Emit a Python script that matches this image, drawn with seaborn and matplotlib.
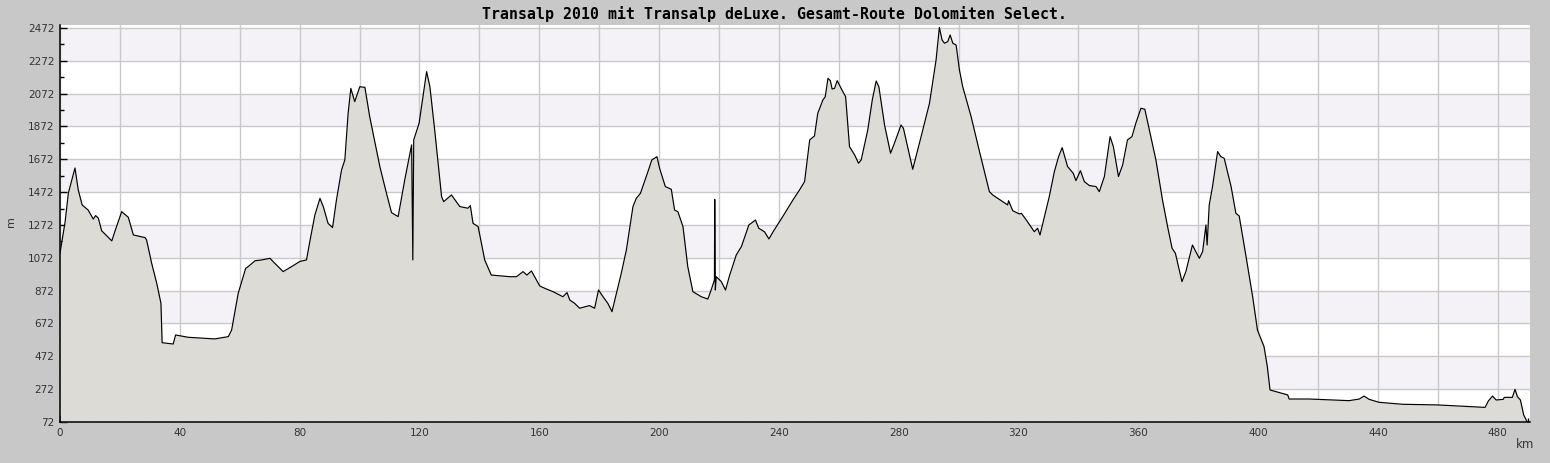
import numpy as np
import pandas as pd
import matplotlib
matplotlib.use("Agg")
import matplotlib.pyplot as plt
import seaborn as sns

# elevation profile (km, m)
km = [0.0, 1.7, 2.8, 5.0, 6.1, 7.4, 9.4, 11.1, 11.9, 12.8, 13.9, 17.3, 18.4, 20.6, 22.8,
      24.5, 28.4, 28.9, 30.6, 32.3, 33.7, 34.1, 37.8, 38.6, 42.8, 51.7, 56.2, 57.3, 59.5,
      62.0, 62.8, 65.1, 67.3, 70.1, 71.7, 74.5, 77.3, 80.1, 82.3, 83.4, 85.1, 86.8, 87.9,
      89.5, 91.0, 92.3, 94.0, 95.1, 96.2, 97.1, 98.4, 100.1, 101.8, 103.4, 106.8, 109.0,
      110.7, 112.9, 115.1, 117.4, 117.8, 118.1, 119.9, 122.4, 123.5, 125.1, 127.4, 128.1,
      130.7, 133.5, 136.2, 137.0, 137.9, 139.6, 141.8, 144.0, 150.2, 152.4, 154.6, 155.9,
      157.4, 160.2, 162.4, 164.6, 167.9, 169.3, 170.2, 171.8, 173.5, 176.8, 178.5, 179.8,
      181.3, 182.9, 184.3, 185.8, 187.4, 189.1, 191.3, 192.4, 193.8, 196.3, 197.6, 199.3,
      200.2, 202.1, 204.1, 205.2, 206.3, 208.0, 209.6, 211.3, 214.1, 216.3, 217.4, 218.5,
      218.6, 218.8, 219.1, 220.8, 222.2, 223.6, 225.8, 227.5, 230.0, 232.2, 233.3, 235.2,
      236.7, 238.1, 241.3, 244.7, 246.9, 248.6, 250.3, 251.9, 253.0, 254.7, 255.5, 256.4,
      257.2, 257.8, 258.6, 259.5, 260.8, 262.3, 263.6, 265.3, 266.6, 267.5, 269.7, 271.2,
      272.5, 273.4, 275.3, 277.3, 278.6, 280.8, 281.6, 284.7, 287.5, 290.3, 292.5, 293.6,
      294.5, 295.3, 296.4, 297.2, 298.1, 299.2, 300.3, 301.4, 304.2, 307.0, 310.3, 311.4,
      316.4, 316.7, 318.1, 320.3, 321.0, 322.6, 325.3, 326.4, 327.2, 328.7, 330.3, 332.0,
      333.4, 334.6, 336.4, 338.3, 339.2, 340.7, 342.0, 343.7, 345.9, 347.0, 348.7, 350.6,
      351.7, 353.4, 354.8, 356.4, 357.9, 359.2, 360.9, 362.2, 364.2, 365.9, 368.1, 369.8,
      371.3, 372.4, 374.6, 375.9, 378.1, 379.2, 380.4, 381.5, 382.6, 383.0, 383.7, 384.8,
      386.5, 387.6, 388.7, 391.0, 392.6, 393.7, 396.0, 398.2, 399.8, 402.0, 403.1, 404.0,
      406.0, 409.9, 410.4, 417.1, 430.4, 433.8, 435.4, 437.1, 440.4, 448.2, 459.9, 471.5,
      475.8, 476.9, 478.3, 479.5, 481.9, 482.2, 484.9, 485.8, 486.6, 487.6, 488.7, 489.8,
      490.8]
elev = [1100, 1290, 1467, 1619, 1485, 1394, 1363, 1308, 1329, 1314, 1237, 1175, 1237, 1353, 1319,
        1211, 1195, 1181, 1039, 917, 795, 555, 547, 602, 588, 578, 592, 632, 856,
        1008, 1018, 1054, 1059, 1069, 1039, 988, 1018, 1050, 1059, 1170, 1333, 1434, 1384,
        1282, 1256, 1424, 1607, 1668, 1952, 2104, 2023, 2114, 2110, 1932, 1627, 1465,
        1347, 1323, 1546, 1760, 1059, 1790, 1892, 2206, 2114, 1851, 1445, 1414,
        1455, 1384, 1374, 1390, 1282, 1262, 1059, 967, 957, 957, 988, 967,
        992, 900, 882, 866, 835, 860, 815, 795, 765, 781, 765, 876,
        835, 795, 744, 856, 978, 1120, 1384, 1434, 1465, 1597, 1668, 1688,
        1617, 1506, 1489, 1363, 1353, 1262, 1018, 866, 835, 821, 876, 937,
        1428, 876, 957, 927, 876, 967, 1090, 1140, 1272, 1302, 1252, 1231,
        1187, 1231, 1323, 1424, 1485, 1536, 1790, 1814, 1952, 2033, 2053, 2165,
        2151, 2100, 2104, 2151, 2104, 2053, 1749, 1699, 1648, 1668, 1851, 2033,
        2149, 2114, 1881, 1709, 1770, 1881, 1861, 1611, 1810, 2013, 2277, 2475,
        2399, 2379, 2389, 2429, 2379, 2368, 2216, 2114, 1932, 1719, 1475, 1455,
        1394, 1420, 1359, 1339, 1343, 1303, 1231, 1252, 1211, 1323, 1445, 1597,
        1688, 1743, 1628, 1587, 1542, 1603, 1536, 1512, 1506, 1475, 1567, 1810,
        1749, 1567, 1638, 1790, 1810, 1892, 1983, 1977, 1810, 1668, 1424, 1262,
        1130, 1100, 927, 988, 1150, 1110, 1069, 1110, 1272, 1150, 1394, 1506,
        1719, 1688, 1678, 1506, 1343, 1327, 1079, 835, 632, 531, 409, 267,
        257, 237, 212, 212, 202, 212, 230, 210, 192, 180, 176, 165,
        161, 200, 230, 206, 210, 222, 222, 271, 226, 206, 115, 74,
        72]

title = "Transalp 2010 mit Transalp deLuxe. Gesamt-Route Dolomiten Select."
y_ticks = list(range(72, 2473, 200))
x_ticks = list(range(0, 481, 40))

df = pd.DataFrame({"km": km, "m": elev})

sns.set_theme(style="white")
plt.rcParams["font.family"] = ["DejaVu Sans"]

fig = plt.figure(figsize=(15.5, 4.63), dpi=100, facecolor="#c8c8c8")
ax = fig.add_axes([60 / 1550, 1 - 422 / 463, 1470 / 1550, 397 / 463])
ax.set_facecolor("white")

y_top = 2490
ax.set_xlim(0, 490.8)
ax.set_ylim(72, y_top)

# alternating bands
for lo in y_ticks[1::2]:
    ax.axhspan(lo, min(lo + 200, y_top), color="#f4f2f6", zorder=0, lw=0)

ax.set_yticks(y_ticks)
ax.set_yticks(list(range(172, 2473, 200)), minor=True)
ax.set_xticks(list(range(0, 481, 20)))
ax.set_xticklabels([str(v) if v % 40 == 0 else "" for v in range(0, 481, 20)])
ax.set_xticks(list(range(10, 491, 20)), minor=True)
ax.grid(True, which="major", color="#c9c9c9", lw=1, zorder=1)
ax.set_axisbelow(True)

ax.fill_between(df["km"], 72, df["m"], color="#dcdbd6", lw=0, zorder=2)
sns.lineplot(data=df, x="km", y="m", estimator=None, sort=False, color="black",
             lw=0.85, ax=ax, zorder=3)

for s in ["top", "right"]:
    ax.spines[s].set_visible(False)
for s in ["left", "bottom"]:
    ax.spines[s].set_color("black")
    ax.spines[s].set_linewidth(1.1)
    ax.spines[s].set_zorder(4)

ax.tick_params(which="major", direction="in", length=5, width=1, color="black",
               labelsize=7.5, labelcolor="#333333", pad=4)
ax.tick_params(which="minor", direction="in", length=3, width=1, color="black")
ax.tick_params(axis="y", which="both", left=True)
ax.tick_params(axis="x", which="both", bottom=True)

ax.set_xlabel("")
ax.set_ylabel("")
fig.text(11 / 1550, 1 - 222 / 463, "m", rotation=90, ha="center", va="center",
         fontsize=8, color="#333333")
fig.text(1525 / 1550, 1 - 445 / 463, "km", ha="center", va="center",
         fontsize=8.5, color="#333333")
fig.text(0.5, 1 - 14 / 463, title, ha="center", va="center", fontsize=10.7,
         family="DejaVu Sans Mono", weight="bold", color="black")

fig.savefig("out.png", dpi=100, facecolor=fig.get_facecolor())
plt.close(fig)
